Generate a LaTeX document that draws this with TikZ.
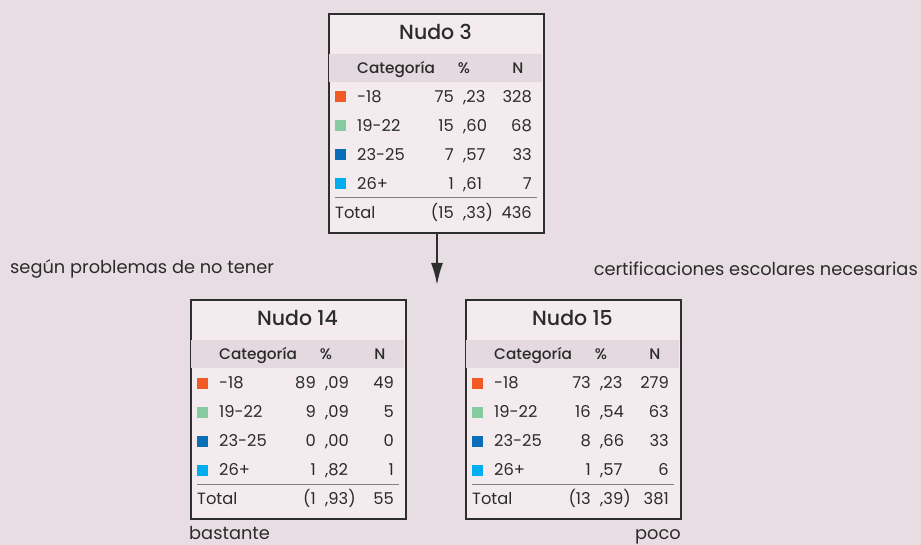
\documentclass[tikz,border=0pt]{standalone}
\usepackage{fontspec}
\setmainfont{Poppins}
\newfontfamily\medfont{Poppins Medium}
\usetikzlibrary{arrows.meta,calc}
\definecolor{canvas}{HTML}{E9DDE4}
\definecolor{boxfill}{HTML}{F3EBEE}
\definecolor{bandfill}{HTML}{E5D9E0}
\definecolor{frame}{HTML}{2E2E2E}
\definecolor{ink}{HTML}{2B2B2B}
\definecolor{rulegray}{HTML}{857D82}
\definecolor{catA}{HTML}{F15A24}
\definecolor{catB}{HTML}{86CB9F}
\definecolor{catC}{HTML}{0A6DB8}
\definecolor{catD}{HTML}{00AEEF}
\tikzset{
  nudobox/.style={draw=frame,line width=2pt,fill=boxfill,minimum width=215pt,minimum height=219pt,inner sep=0pt,anchor=north west},
  titletext/.style={inner sep=0pt,text=ink,font=\medfont\fontsize{20.5}{24}\selectfont},
  headtext/.style={inner sep=0pt,text=ink,text height=11pt,text depth=0pt,font=\medfont\fontsize{15.3}{18}\selectfont},
  celltext/.style={inner sep=0pt,text=ink,text height=11.5pt,text depth=0pt,font=\fontsize{16.3}{19}\selectfont},
  sidetext/.style={inner sep=0pt,text=ink,font=\fontsize{17.8}{21}\selectfont},
  flow/.style={-{Latex[length=22pt,width=12pt]},line width=2pt,frame}
}
% name, left, top, title, rows, total int, total dec, total N
\newcommand{\nudo}[8]{%
  \node[nudobox] (#1) at (#2+1,#3+1) {};
  \begin{scope}[shift={(#2,#3)}]
    \fill[bandfill] (2,42) rectangle (215,70);
    \node[titletext] (#1-title) at (108.5,20) {#4};
    \node[headtext,anchor=west] at (30,56) {Categoría};
    \node[headtext] at (137,56) {\%};
    \node[headtext] at (191,56) {N};
    \foreach \lab/\col/\pint/\pdec/\n [count=\i] in {#5} {
      \pgfmathsetmacro\ry{85+29*(\i-1)}
      \fill[\col] (8,\ry-5.5) rectangle (19,\ry+5.5);
      \node[celltext,anchor=west] at (30,\ry) {\lab};
      \node[celltext,anchor=east] at (127,\ry) {\pint};
      \node[celltext,anchor=west] at (136,\ry) {,\pdec};
      \node[celltext,anchor=east] at (205,\ry) {\n};
    }
    \draw[rulegray,line width=1pt] (8,186) -- (210,186);
    \node[celltext,anchor=west] at (8,201) {Total};
    \node[celltext,anchor=east] at (127,201) {(#6};
    \node[celltext,anchor=west] at (136,201) {,#7)};
    \node[celltext,anchor=east] at (205,201) {#8};
  \end{scope}
}

\begin{document}
\begin{tikzpicture}[x=1pt,y=-1pt]
  \useasboundingbox[fill=canvas] (0,0) rectangle (921,545);

  \nudo{n3}{327}{12}{Nudo 3}{-18/catA/75/23/328, 19-22/catB/15/60/68, 23-25/catC/7/57/33, 26+/catD/1/61/7}{15}{33}{436}
  \nudo{n14}{189}{298}{Nudo 14}{-18/catA/89/09/49, 19-22/catB/9/09/5, 23-25/catC/0/00/0, 26+/catD/1/82/1}{1}{93}{55}
  \nudo{n15}{464}{298}{Nudo 15}{-18/catA/73/23/279, 19-22/catB/16/54/63, 23-25/catC/8/66/33, 26+/catD/1/57/6}{13}{39}{381}

  % split arrow
  \coordinate (split) at (437,285);
  \draw[flow] (n3.south -| split) -- (split);

  % split labels
  \node[sidetext,anchor=west] (leftcond) at (10,269) {según problemas de no tener};
  \node[sidetext,anchor=east] (rightcond) at (918,269) {certificaciones escolares necesarias};
  \node[sidetext,anchor=base west] (bastante) at (189,539) {bastante};
  \node[sidetext,anchor=base east] (poco) at (681,539) {poco};
\end{tikzpicture}
\end{document}
